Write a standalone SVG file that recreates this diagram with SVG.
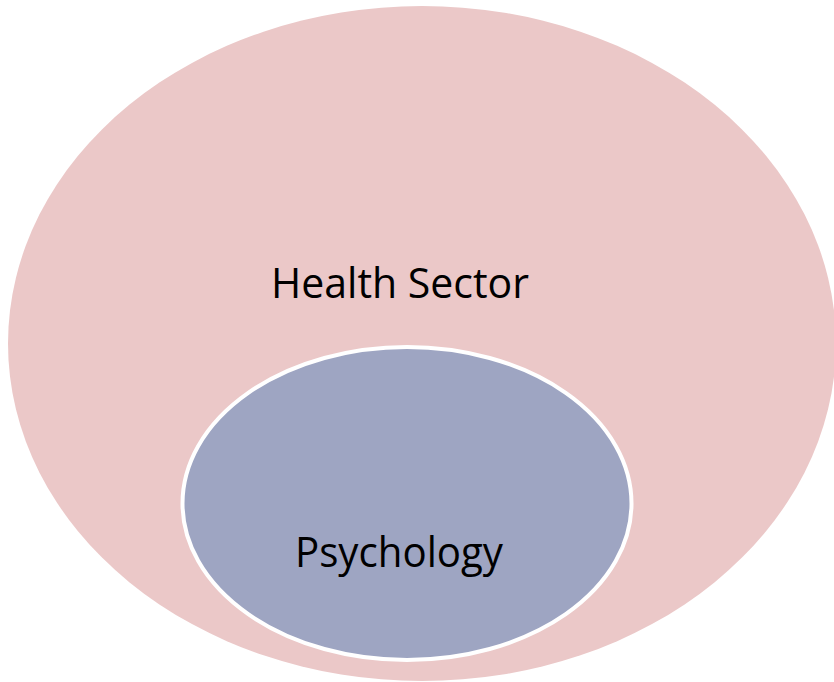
<svg xmlns="http://www.w3.org/2000/svg" width="834" height="682" viewBox="0 0 834 682">
<style>
.lbl{font-family:"Open Sans","Liberation Sans",sans-serif;font-size:42px;fill:#000}
</style>
<rect width="834" height="682" fill="#ffffff"/>
<g id="health-sector">
<ellipse cx="422" cy="343.5" rx="414" ry="337.5" fill="#EBC8C8"/>
<text class="lbl" x="271" y="298" textLength="258" lengthAdjust="spacingAndGlyphs">Health Sector</text>
</g>
<g id="psychology">
<ellipse cx="407" cy="503.5" rx="224.5" ry="156.5" fill="#9EA5C2" stroke="#ffffff" stroke-width="4"/>
<text class="lbl" x="295" y="567" textLength="208" lengthAdjust="spacingAndGlyphs">Psychology</text>
</g>
<g id="connectors"/>
</svg>
